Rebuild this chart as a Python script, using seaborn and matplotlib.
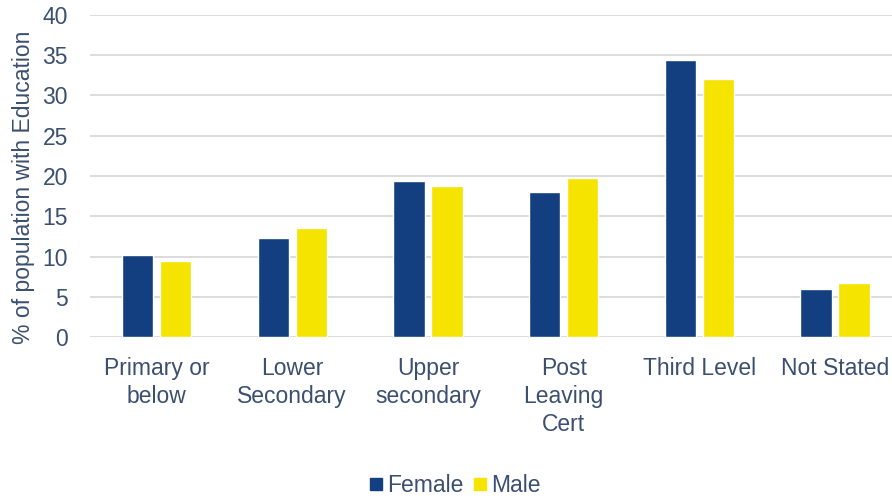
import matplotlib
matplotlib.use("Agg")
import matplotlib.pyplot as plt
from matplotlib.lines import Line2D
import seaborn as sns
import pandas as pd

categories = ["Primary or\nbelow", "Lower\nSecondary", "Upper\nsecondary",
              "Post\nLeaving\nCert", "Third Level", "Not Stated"]
female = [10.2, 12.3, 19.4, 18.0, 34.4, 6.0]
male = [9.4, 13.6, 18.8, 19.7, 32.1, 6.7]
series = ["Female", "Male"]
colors = {"Female": "#133f80", "Male": "#f5e300"}
text_color = "#3b4f6f"

df = pd.DataFrame({
    "category": categories * 2,
    "value": female + male,
    "sex": ["Female"] * len(categories) + ["Male"] * len(categories),
})

sns.set_theme(style="white")
plt.rcParams["font.family"] = ["Liberation Sans", "DejaVu Sans"]

fig = plt.figure(figsize=(8.92, 4.98), dpi=100)
ax = fig.add_axes([0.101, 0.323, 0.899, 0.647])

sns.barplot(data=df, x="category", y="value", hue="sex", order=categories,
            hue_order=series, palette=colors, width=0.56, gap=0.18,
            saturation=1, legend=False, ax=ax)

ax.set_ylim(0, 40)
ax.set_xlim(-0.49, 5.42)
ax.set_yticks(range(0, 41, 5))
ax.yaxis.grid(True, color="#dcdcdc", linewidth=1.4)
ax.set_axisbelow(True)
for s in ax.spines.values():
    s.set_visible(False)

ax.tick_params(axis="y", length=0, pad=16, labelsize=16.5, labelcolor=text_color)
ax.tick_params(axis="x", length=0, pad=14, labelsize=16.5, labelcolor=text_color)
for lbl in ax.get_xticklabels():
    lbl.set_linespacing(1.3)
ax.set_xlabel("")
ax.set_ylabel("% of population with Education", fontsize=16.5, color=text_color)
ax.yaxis.set_label_coords(-0.069, 0.464)

handles = [Line2D([], [], marker="s", linestyle="", markersize=8,
                  markerfacecolor=colors[s], markeredgecolor=colors[s])
           for s in series]
fig.legend(handles, series, loc="lower center", bbox_to_anchor=(0.51, -0.04),
           ncol=2, frameon=False, fontsize=16.5, handlelength=0.6,
           handletextpad=0.2, columnspacing=0.4, labelcolor=text_color)

fig.savefig("out.png", dpi=100)
